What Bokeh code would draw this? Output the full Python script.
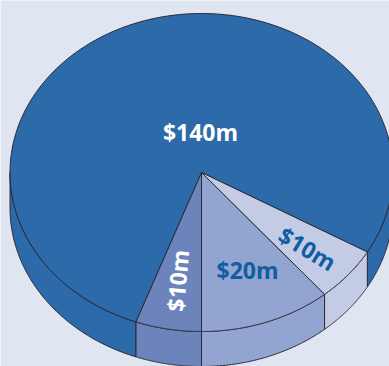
import numpy as np
from bokeh.plotting import figure
from bokeh.models import ColumnDataSource
from bokeh.core.properties import value
from bokeh.embed import file_html
from bokeh.resources import INLINE

# Funding shares in $ million, clockwise round the pie
labels = ["$140m", "$10m", "$20m", "$10m"]
amounts = [140, 10, 20, 10]
slice_colors = ["#2C6AA9", "#6C84BB", "#92A5D0", "#C4CCE5"]
text_colors = ["#FFFFFF", "#FFFFFF", "#0F5DA3", "#0F5DA3"]

# Page geometry of the tilted disc (pixels)
CX, CY, RX, RY, DEPTH = 201.0, 172.0, 191.5, 159.0, 35.0
START_DEG = 90 + 20  # where the large slice ends, measured so that 90 is straight down
DEG_PER_UNIT = 2.0  # the four shares span 360 degrees
EDGE = "#2A2A33"

label_x = [200, 177, 247, 307]
label_y = [131, 280, 269, 248]
label_angle = [0, 85, 0, -31]
label_size = ["23px", "23px", "23px", "23px"]


def rim(deg, drop=0.0):
    t = np.radians(deg)
    return CX + RX * np.cos(t), CY + RY * np.sin(t) + drop


p = figure(width=389, height=366, x_range=(0, 389), y_range=(366, 0),
           output_backend="svg", toolbar_location=None,
           x_axis_type=None, y_axis_type=None, min_border=0,
           background_fill_color="#E0E5F2", border_fill_color="#E0E5F2",
           outline_line_color=None)
p.grid.visible = False

# Sector boundaries: the large slice starts at the first boundary and runs round the back
bounds = [START_DEG]
for a in amounts[1:]:
    bounds.append(bounds[-1] - a * DEG_PER_UNIT)
large_start = bounds[0]
large_end = bounds[0] + amounts[0] * DEG_PER_UNIT
sectors = [(large_start, large_end)] + [(bounds[i + 1], bounds[i]) for i in range(3)]

# Side wall of each slice: only the near half of the disc (0..180 degrees) shows one
for (a0, a1), color in zip(sectors, slice_colors):
    pieces = [(max(a0, 0), min(a1, 180)), (max(a0 - 360, 0), min(a1 - 360, 180))]
    for lo, hi in pieces:
        if hi <= lo:
            continue
        ts = np.linspace(lo, hi, 90)
        xt, yt = rim(ts)
        xb, yb = rim(ts, DEPTH)
        p.patch(np.r_[xt, xb[::-1]], np.r_[yt, yb[::-1]], fill_color=color,
                line_color=EDGE, line_width=1)

# Top face
for (a0, a1), color in zip(sectors, slice_colors):
    ts = np.linspace(a0, a1, 360)
    xt, yt = rim(ts)
    p.patch(np.r_[CX, xt], np.r_[CY, yt], fill_color=color,
            line_color=EDGE, line_width=1, line_join="round")

src = ColumnDataSource(dict(x=label_x, y=label_y, text=labels, color=text_colors,
                            angle=np.radians(label_angle), size=label_size))
p.text("x", "y", text="text", source=src, text_color="color", angle="angle",
       text_font=value("Open Sans"), text_font_style="bold", text_font_size="size",
       text_align="center", text_baseline="middle")

open("out.html", "w").write(file_html(p, INLINE))
